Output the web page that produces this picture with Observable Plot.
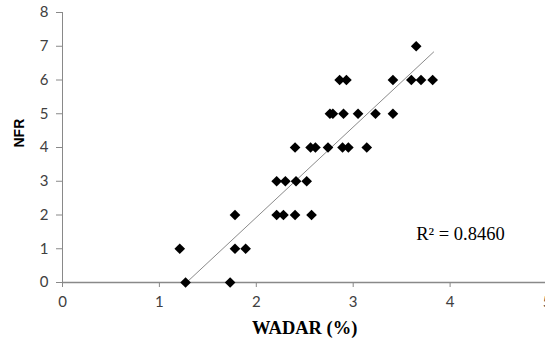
<!DOCTYPE html>
<html><head><meta charset="utf-8">
<script src="https://cdn.jsdelivr.net/npm/d3@7"></script>
<script src="https://cdn.jsdelivr.net/npm/@observablehq/plot@0.6"></script>
<style>html,body{margin:0;padding:0;background:#fff}#chart svg{display:block}</style>
</head><body><div id="chart"></div>
<script>
// WADAR (%) values and matching NFR values
const wadar = [1.27, 1.73,
               1.21, 1.78, 1.89,
               1.78, 2.21, 2.28, 2.40, 2.57,
               2.21, 2.30, 2.41, 2.52,
               2.40, 2.56, 2.61, 2.74, 2.89, 2.95, 3.14,
               2.76, 2.79, 2.90, 3.05, 3.23, 3.41,
               2.86, 2.93, 3.41, 3.60, 3.70, 3.82,
               3.65];
const nfr   = [0, 0,
               1, 1, 1,
               2, 2, 2, 2, 2,
               3, 3, 3, 3,
               4, 4, 4, 4, 4, 4, 4,
               5, 5, 5, 5, 5, 5,
               6, 6, 6, 6, 6, 6,
               7];
// linear trend line end points (as drawn in the chart)
const trendWadar = [1.28, 3.83];
const trendNfr = [0, 6.83];
const xTicks = [0, 1, 2, 3, 4, 5];
const yTicks = [0, 1, 2, 3, 4, 5, 6, 7, 8];
const r2Text = ["R\u00B2 = 0.8460"];
const r2At = {wadar: 3.65, nfr: 1.42};
const xLabel = "WADAR (%)";
const yLabel = "NFR";

const points = wadar.map((w, i) => ({wadar: w, nfr: nfr[i]}));
const trend = trendWadar.map((w, i) => ({wadar: w, nfr: trendNfr[i]}));

const axisGray = "#898989";
const tickFont = "Lato, 'Open Sans', sans-serif";

const chart = Plot.plot({
  width: 545,
  height: 341,
  marginTop: 12,
  marginBottom: 59,
  marginLeft: 62,
  marginRight: -1.5,
  style: {background: "#fff", overflow: "visible"},
  x: {domain: [0, 5]},
  y: {domain: [0, 8]},
  marks: [
    Plot.axisY(yTicks, {tickSize: 6, tickPadding: 8, stroke: axisGray, fill: "#404040",
      fontSize: 15, fontFamily: tickFont, label: null}),
    Plot.axisX(xTicks, {tickSize: 5, tickPadding: 9, stroke: axisGray, fill: "#404040",
      fontSize: 15, fontFamily: tickFont, label: null}),
    Plot.ruleX([0], {stroke: axisGray, strokeWidth: 1}),
    Plot.ruleY([0], {stroke: axisGray, strokeWidth: 1.6}),
    Plot.line(trend, {x: "wadar", y: "nfr", stroke: "#8a8a8a", strokeWidth: 1}),
    Plot.dot(points, {x: "wadar", y: "nfr", symbol: "diamond2", r: 4.8, fill: "#000", stroke: "none"}),
    Plot.text(r2Text, {x: () => r2At.wadar, y: () => r2At.nfr, text: d => d, textAnchor: "start",
      fontFamily: "'Liberation Serif', 'Times New Roman', serif", fontSize: 18.5, fill: "#000"}),
    Plot.text([xLabel], {frameAnchor: "bottom", text: d => d, dy: 46, lineAnchor: "middle",
      fontFamily: "'Liberation Serif', 'Times New Roman', serif", fontWeight: "bold", fontSize: 18.5, fill: "#000"}),
    Plot.text([yLabel], {frameAnchor: "left", text: d => d, dx: -43, rotate: -90,
      fontFamily: "'Liberation Sans', Arial, sans-serif", fontWeight: "bold", fontSize: 14, fill: "#000"})
  ]
});
document.getElementById("chart").appendChild(chart);
</script>
</body></html>
